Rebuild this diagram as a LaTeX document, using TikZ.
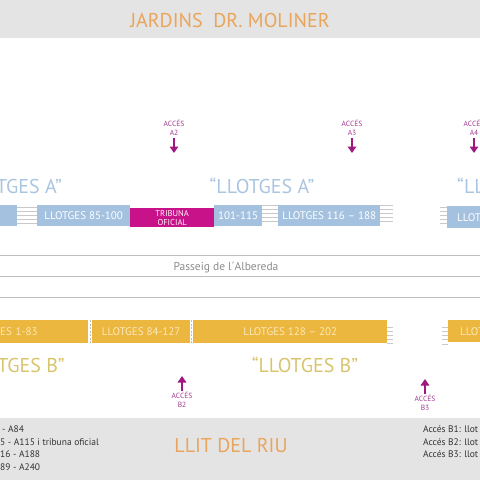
\documentclass[tikz,border=0pt]{standalone}
\usepackage{fontspec}
\setmainfont{PT Sans}
\usetikzlibrary{arrows.meta}
\definecolor{bandgrey}{HTML}{E4E4E4}
\definecolor{titleorange}{HTML}{E9A55C}
\definecolor{ablue}{HTML}{A4C2E0}
\definecolor{alabel}{HTML}{A9C5DF}
\definecolor{tribmag}{HTML}{C8128A}
\definecolor{accpurple}{HTML}{A0187F}
\definecolor{acctxt}{HTML}{A03A90}
\definecolor{byellow}{HTML}{ECB73E}
\definecolor{btext}{HTML}{FBE9B8}
\definecolor{blabel}{HTML}{D8C46C}
\definecolor{roadgrey}{HTML}{BDBDBD}
\definecolor{stairgrey}{HTML}{C9C9C9}
\definecolor{legendtxt}{HTML}{333333}
\newcommand\stairset[4]{\foreach \k in {0,...,4}{\draw[stairline] (#1,{#3+\k*(#4-#3)/4}) -- (#2,{#3+\k*(#4-#3)/4});}}
\tikzset{
  boxA/.style={fill=ablue, text=white, inner sep=0pt, anchor=north west, minimum height=21pt, font=\fontsize{11}{13}\selectfont},
  boxB/.style={fill=byellow, text=btext, inner sep=0pt, anchor=north west, minimum height=23pt, font=\fontsize{11}{13}\selectfont},
  trib/.style={fill=tribmag, text=white!85!pink, inner sep=0pt, anchor=north west, minimum height=19pt, align=center, font=\fontsize{8.5}{9}\selectfont},
  stairline/.style={draw=stairgrey, line width=0.8pt},
  road/.style={draw=roadgrey, line width=0.8pt},
  sepline/.style={draw=black!25, line width=1pt, dash pattern=on 2pt off 1.5pt},
  acctext/.style={text=acctxt, font=\fontsize{7.5}{8.5}\selectfont, align=center, inner sep=0pt},
  accarrow/.style={draw=accpurple, line width=2pt, -{Triangle[width=8.5pt,length=6.5pt]}},
  bigA/.style={text=alabel, font=\fontsize{20}{24}\selectfont, inner sep=0pt},
  bigB/.style={text=blabel, font=\fontsize{20}{24}\selectfont, inner sep=0pt},
  band/.style={text=titleorange, font=\fontsize{20}{24}\selectfont, inner sep=0pt},
  legend/.style={text=legendtxt, font=\fontsize{9.5}{11}\selectfont, inner sep=0pt}
}
\begin{document}
\begin{tikzpicture}[x=1pt,y=-1pt]
\useasboundingbox (0,0) rectangle (480,480);
\clip (0,0) rectangle (480,480);
% bands
\fill[bandgrey] (0,0) rectangle (480,38);
\fill[bandgrey] (0,418) rectangle (480,480);
\node[band, anchor=base] (title) at (230,27) {JARDINS\ \ DR. MOLINER};
% access A
\node[acctext, anchor=north] (accA2) at (174,120) {ACCÉS\\A2};
\node[acctext, anchor=north] (accA3) at (352,120) {ACCÉS\\A3};
\node[acctext, anchor=north] (accA4) at (474,120) {ACCÉS\\A4};
\coordinate (a2s) at (174,138); \coordinate (a2e) at (174,153);
\coordinate (a3s) at (352,138); \coordinate (a3e) at (352,153);
\coordinate (a4s) at (474,138); \coordinate (a4e) at (474,153);
\draw[accarrow] (a2s) -- (a2e);
\draw[accarrow] (a3s) -- (a3e);
\draw[accarrow] (a4s) -- (a4e);
% labels A
\node[bigA, anchor=base east] (labA1) at (62,193) {TGES A”};
\node[bigA, anchor=base] (labA2) at (262,193) {“LLOTGES A”};
\node[bigA, anchor=base west] (labA3) at (457,193) {“LL};
% row A
\node[boxA, minimum width=17pt] (a0) at (0,205) {};
\node[boxA, minimum width=93pt] (a85) at (37,205) {LLOTGES 85-100};
\node[trib, minimum width=84pt] (tribuna) at (130,208) {TRIBUNA\\OFICIAL};
\node[boxA, minimum width=48pt] (a101) at (214,205) {101-115};
\node[boxA, minimum width=102pt] (a116) at (278,205) {LLOTGES 116 – 188};
\node[boxA, minimum height=22pt, inner xsep=10pt] (aR) at (447,206) {LLOT};
\stairset{17}{37}{207}{223}
\stairset{262}{278}{205}{221}
\stairset{380}{393}{205}{221}
\stairset{440}{447}{207}{223}
% road
\draw[road] (0,255) -- (480,255);
\draw[road] (0,276) -- (480,276);
\draw[road] (0,297) -- (480,297);
\node[text=black!45, font=\fontsize{11.5}{13}\selectfont, inner sep=0pt, anchor=base] (passeig) at (226,270) {Passeig de l´Albereda};
% row B
\node[boxB, text width=88pt, align=left] (b1) at (0,320) {ES 1-83};
\node[boxB, minimum width=98pt] (b84) at (92,320) {LLOTGES 84-127};
\node[boxB, minimum width=194pt] (b128) at (193,320) {LLOTGES 128 – 202};
\node[boxB, minimum height=22pt, inner xsep=12pt] (bR) at (448,320) {LLOT};
\draw[sepline] (90,320) -- (90,343);
\draw[sepline] (191,320) -- (191,343);
\stairset{387}{393}{327}{343}
\stairset{442}{448}{327}{344}
% labels B
\node[bigB, anchor=base east] (labB1) at (65,372) {TGES B”};
\node[bigB, anchor=base] (labB2) at (305,372) {“LLOTGES B”};
% access B
\node[acctext, anchor=north] (accB2) at (182,392) {ACCÉS\\B2};
\node[acctext, anchor=north] (accB3) at (425,395) {ACCÉS\\B3};
\coordinate (b2s) at (182,391); \coordinate (b2e) at (182,376);
\coordinate (b3s) at (425,394); \coordinate (b3e) at (425,379);
\draw[accarrow] (b2s) -- (b2e);
\draw[accarrow] (b3s) -- (b3e);
% bottom
\node[band, anchor=base] (riu) at (231,452) {LLIT DEL RIU};
\node[legend, anchor=base west] (l1) at (2,432) {- A84};
\node[legend, anchor=base west] (l2) at (0,445) {5 - A115 i tribuna oficial};
\node[legend, anchor=base west] (l3) at (0,457) {16 - A188};
\node[legend, anchor=base west] (l4) at (0,470) {89 - A240};
\node[legend, anchor=base west] (r1) at (423,432) {Accés B1: llot};
\node[legend, anchor=base west] (r2) at (423,445) {Accés B2: llot};
\node[legend, anchor=base west] (r3) at (423,457) {Accés B3: llot};
\end{tikzpicture}
\end{document}
